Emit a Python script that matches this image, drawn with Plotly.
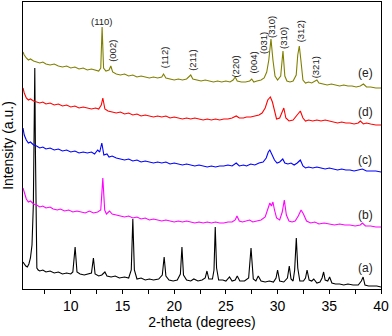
import plotly.graph_objects as go

# ---- data (2-theta in degrees, intensity in arbitrary units) ----
xa = [5.38,5.5,5.65,5.8,5.95,6.1,6.25,6.38,6.45,6.52,6.58,6.64,6.72,6.85,7.0,7.3,7.6,8.0,8.4,8.8,9.2,9.6,10.0,10.2,10.42,10.6,10.9,11.3,11.7,12.0,12.19,12.35,12.7,13.0,13.3,13.5,13.9,14.3,14.7,15.2,15.6,15.85,16.0,16.15,16.4,16.8,17.2,17.6,18.0,18.5,18.85,19.03,19.2,19.5,19.9,20.3,20.6,20.75,20.9,21.2,21.6,21.9,22.3,22.7,23.0,23.17,23.35,23.7,23.85,23.97,24.1,24.3,24.7,25.0,25.35,25.6,25.9,26.1,26.35,26.8,27.2,27.43,27.65,27.9,28.13,28.4,28.8,29.2,29.6,29.85,30.0,30.2,30.6,30.95,31.13,31.3,31.5,31.65,31.81,31.95,32.15,32.5,32.7,32.85,33.05,33.3,33.5,33.8,34.1,34.3,34.45,34.6,34.85,35.03,35.25,35.6,36.0,36.4,36.8,37.3,37.8,38.1,38.27,38.45,38.8,39.2,39.6,40.0]
ya = [27,25,23,22,25,31,44,84,139,221,139,49,21,19,18,19,17,18,16,17,15,16,15,17,42,17,15,14,15,16,31,15,13,14,17,13,12,13,11,12,11,19,70,19,10,11,9,10,9,10,14,32,13,9,8,9,15,42,14,9,8,10,8,9,11,18,10,10,19,62,21,9,9,8,12,8,9,13,8,8,11,41,10,8,13,8,7,8,7,11,19,8,7,11,23,10,8,19,51,21,8,8,11,19,9,8,10,6,7,11,17,9,8,12,6,5,5,4,5,4,4,8,12,4,3,3,3,2]

xb = [5.38,5.5,5.7,5.9,6.1,6.4,6.7,7.0,7.3,7.6,8.0,8.3,8.7,9.0,9.4,9.8,10.2,10.6,11.0,11.4,11.8,12.2,12.6,12.9,13.1,13.28,13.45,13.75,14.0,14.4,14.8,15.2,15.6,16.0,16.4,16.8,17.2,17.6,18.0,18.4,18.8,19.2,19.6,20.0,20.4,20.8,21.2,21.6,22.0,22.4,22.8,23.2,23.6,24.0,24.4,24.8,25.2,25.6,25.9,26.07,26.3,26.6,27.0,27.3,27.6,28.0,28.4,28.8,29.05,29.25,29.4,29.55,29.7,29.9,30.2,30.45,30.65,30.85,31.1,31.4,31.7,32.0,32.27,32.5,32.8,33.2,33.6,34.0,34.5,35.0,35.5,36.0,36.5,37.0,37.5,38.0,38.2,38.5,39.0,39.5,40.0]
yb = [101,96,90,87,88,85,84,82,83,81,82,80,79,80,78,79,77,78,77,76,78,76,77,79,111,79,75,78,75,74,73,72,73,71,72,70,71,69,70,69,68,69,68,67,68,67,68,67,66,67,66,67,66,67,66,66,67,67,69,73,68,67,68,69,67,68,69,72,81,86,83,87,79,71,69,77,89,74,68,67,68,73,79,75,68,66,67,65,66,65,64,65,64,64,63,64,66,63,63,62,62]

xc = [5.38,5.5,5.7,5.9,6.1,6.4,6.7,7.0,7.3,7.6,8.0,8.4,8.8,9.2,9.6,10.0,10.4,10.8,11.2,11.6,12.0,12.3,12.6,12.8,13.0,13.2,13.5,13.7,14.0,14.4,14.8,15.2,15.6,16.0,16.4,16.8,17.2,17.6,18.0,18.4,18.8,19.2,19.6,20.0,20.4,20.8,21.2,21.6,22.0,22.4,22.8,23.2,23.6,24.0,24.4,24.8,25.2,25.6,26.0,26.3,26.7,27.0,27.4,27.8,28.2,28.6,28.9,29.1,29.25,29.45,29.7,29.95,30.2,30.5,30.7,31.0,31.3,31.6,31.9,32.2,32.45,32.7,33.0,33.4,33.8,34.2,34.6,35.0,35.4,35.8,36.2,36.6,37.0,37.4,37.8,38.2,38.6,39.0,39.5,40.0]
yc = [161,154,149,146,147,144,143,141,142,140,141,139,140,138,139,137,138,136,137,136,137,135,139,137,146,134,135,132,133,131,130,129,130,128,129,127,128,127,126,127,126,127,125,126,125,124,125,124,123,124,123,122,123,122,123,123,124,123,126,123,124,123,125,124,126,127,131,137,139,135,129,126,127,130,126,125,126,124,126,129,123,121,122,121,122,121,120,121,120,119,120,119,119,118,119,120,118,118,118,117]

xd = [5.38,5.5,5.7,5.9,6.1,6.4,6.7,7.0,7.3,7.6,8.0,8.4,8.8,9.2,9.6,10.0,10.4,10.8,11.2,11.6,12.0,12.4,12.7,12.95,13.1,13.3,13.6,14.0,14.4,14.8,15.2,15.6,16.0,16.4,16.8,17.2,17.6,18.0,18.4,18.8,19.2,19.6,20.0,20.4,20.8,21.2,21.6,22.0,22.4,22.8,23.2,23.6,24.0,24.4,24.8,25.2,25.6,26.0,26.3,26.7,27.0,27.4,27.8,28.2,28.5,28.8,29.05,29.3,29.5,29.7,29.9,30.2,30.45,30.6,30.8,31.1,31.5,31.9,32.2,32.45,32.7,33.0,33.4,33.8,34.2,34.6,35.0,35.4,35.8,36.2,36.6,37.0,37.4,37.8,38.0,38.3,38.6,39.0,39.5,40.0]
yd = [201,196,191,189,190,188,187,186,187,185,186,184,185,183,184,182,183,181,182,181,180,181,180,184,191,180,178,177,176,177,175,176,174,175,173,174,173,172,173,172,173,171,172,171,170,171,170,171,170,169,170,169,170,169,170,170,171,173,171,171,172,172,173,174,176,181,189,192,187,177,170,171,177,181,171,168,169,174,178,171,168,169,168,169,168,169,168,167,166,167,166,166,165,166,168,165,166,165,164,164]

xe = [5.38,5.5,5.7,5.9,6.1,6.4,6.7,7.0,7.3,7.6,8.0,8.4,8.8,9.2,9.6,10.0,10.4,10.8,11.2,11.6,12.0,12.4,12.7,12.9,13.03,13.17,13.4,13.7,13.87,14.05,14.4,14.8,15.2,15.6,16.0,16.4,16.8,17.2,17.6,18.0,18.4,18.8,18.97,19.2,19.6,20.0,20.4,20.8,21.2,21.45,21.6,21.8,22.2,22.6,23.0,23.4,23.8,24.2,24.6,25.0,25.4,25.7,25.9,26.1,26.5,26.9,27.3,27.5,27.7,28.0,28.4,28.7,28.95,29.15,29.36,29.55,29.75,30.0,30.3,30.52,30.7,30.9,31.2,31.5,31.8,31.95,32.1,32.25,32.45,32.7,33.0,33.3,33.6,33.8,34.0,34.4,34.8,35.2,35.6,36.0,36.4,36.8,37.2,37.6,38.0,38.3,38.6,39.0,39.5,40.0]
ye = [237,234,231,229,230,228,227,226,227,225,224,225,223,222,223,221,222,220,221,219,220,219,218,221,262,221,218,219,223,217,215,214,215,213,214,212,213,212,211,212,211,212,215,211,210,209,210,209,210,212,214,210,209,208,209,208,207,208,207,208,207,209,212,208,207,207,208,210,207,208,209,211,217,229,250,229,213,209,213,238,213,208,207,208,214,234,243,229,209,206,207,206,208,209,206,205,204,205,204,203,204,203,203,202,203,205,202,202,201,201]

peak_labels = ["(110)", "(002)", "(112)", "(211)", "(220)", "(004)", "(031)", "(310)", "(310)", "(312)", "(321)"]
peak_label_x = [13.0, 13.97, 19.03, 21.71, 25.84, 27.58, 28.59, 29.36, 30.52, 32.2, 33.65]
peak_label_y = [268, 238, 231, 229, 222, 226, 246, 262, 251, 258, 222]
peak_label_angle = [0, -90, -90, -90, -90, -90, -90, -90, -90, -90, -90]

curve_labels = ["(a)", "(b)", "(c)", "(d)", "(e)"]
curve_label_y = [21, 74, 129, 177, 216]
curve_label_x = 38.5

x_ticks = [10, 15, 20, 25, 30, 35, 40]

series = [(xa, ya, "#000000"), (xb, yb, "#ff00ff"), (xc, yc, "#0000ff"),
          (xd, yd, "#ff0000"), (xe, ye, "#808000")]

fig = go.Figure()
for xs, ys, col in series:
    fig.add_trace(go.Scatter(x=xs, y=ys, mode="lines",
                             line=dict(color=col, width=1.1), showlegend=False))

font_family = "Liberation Sans, Arial, sans-serif"
for t, x, y, a in zip(peak_labels, peak_label_x, peak_label_y, peak_label_angle):
    fig.add_annotation(x=x, y=y, text=t, showarrow=False, textangle=a,
                       font=dict(family=font_family, size=9.5, color="#222222"))
for t, y in zip(curve_labels, curve_label_y):
    fig.add_annotation(x=curve_label_x, y=y, text=t, showarrow=False,
                       font=dict(family=font_family, size=12, color="#222222"))

fig.update_layout(
    width=392, height=336,
    margin=dict(l=23, r=11, t=2, b=47),
    paper_bgcolor="white", plot_bgcolor="white",
    font=dict(family=font_family, color="#000000"),
    showlegend=False,
)
fig.update_xaxes(
    range=[5.38, 40], tickvals=x_ticks, ticks="outside", ticklen=4,
    tickwidth=1, tickcolor="#000000",
    minor=dict(dtick=2.5, tick0=7.5, ticks="outside", ticklen=4, tickcolor="#000000"),
    showline=True, linecolor="#000000", linewidth=1, mirror=True,
    showgrid=False, zeroline=False, tickfont=dict(size=14),
    title=dict(text="2-theta (degrees)", font=dict(size=14), standoff=4),
    automargin=False,
)
fig.update_yaxes(
    range=[0, 287], showticklabels=False, ticks="",
    showline=True, linecolor="#000000", linewidth=1, mirror=True,
    showgrid=False, zeroline=False,
    title=dict(text="Intensity (a.u.)", font=dict(size=14), standoff=6),
    automargin=False,
)

fig.write_html("out.html", config={"displayModeBar": False},
               post_script="document.body.style.margin='0';document.body.style.padding='0';")
